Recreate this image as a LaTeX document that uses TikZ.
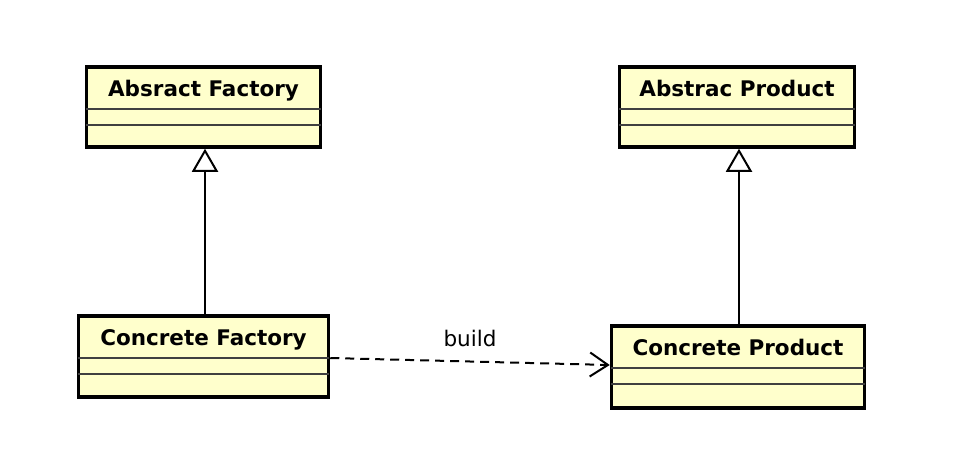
\documentclass[tikz,border=0pt]{standalone}
\usepackage{fontspec}
\setmainfont{DejaVu Sans}
\usetikzlibrary{arrows.meta}
\definecolor{classfill}{RGB}{255,255,204}

\begin{document}
\begin{tikzpicture}[x=1pt,y=-1pt]
    \tikzstyle{every node}=[font={\fontsize{21.5}{25}\selectfont}]
    \tikzstyle{classbox}=[draw, fill=classfill, line width=3.5pt, inner sep=0pt]
    \tikzstyle{classname}=[anchor=base, font={\fontsize{21.5}{25}\selectfont\bfseries}]
    \tikzstyle{inherit}=[line width=2pt, -{Triangle[open, length=23pt, width=26pt]}]
    \tikzstyle{depend}=[line width=2pt, dash pattern=on 9pt off 6pt, -{Straight Barb[length=18pt, width=24pt]}]
    \useasboundingbox (0,0) rectangle (956,466);

    % class boxes
    \node[classbox, minimum width=234pt, minimum height=80pt] (absfactory) at (203.5,107) {};
    \node[classbox, minimum width=235pt, minimum height=80pt] (absproduct) at (737,107) {};
    \node[classbox, minimum width=250pt, minimum height=81pt] (confactory) at (203.5,356.5) {};
    \node[classbox, minimum width=253pt, minimum height=82pt] (conproduct) at (738,367) {};

    % names and compartments
    \foreach \cls/\name in {absfactory/Absract Factory, absproduct/Abstrac Product,
                            confactory/Concrete Factory, conproduct/Concrete Product} {
        \node[classname] (\cls-title) at ([yshift=-31pt]\cls.north) {\name};
        \draw[line width=2pt, black!75] ([xshift=1.5pt, yshift=-44pt]\cls.north west) -- ([xshift=-1.5pt, yshift=-44pt]\cls.north east);
        \draw[line width=2pt, black!75] ([xshift=1.5pt, yshift=-60pt]\cls.north west) -- ([xshift=-1.5pt, yshift=-60pt]\cls.north east);
    }

    % relations
    \draw[inherit] ([xshift=1.5pt]confactory.north) -- ([xshift=1.5pt]absfactory.south);
    \draw[inherit] ([xshift=1pt]conproduct.north) -- ([xshift=1pt]conproduct.north |- absproduct.south);
    \draw[depend] ([yshift=-1.5pt]confactory.east) -- node[midway, above=10pt] (buildlabel) {build} ([yshift=2pt]conproduct.west);
\end{tikzpicture}
\end{document}
